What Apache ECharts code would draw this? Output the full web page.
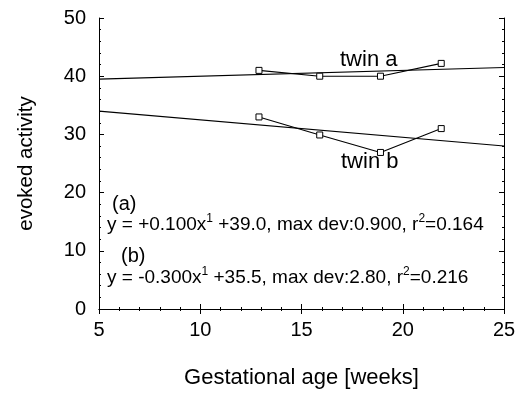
<!DOCTYPE html>
<html>
<head>
<meta charset="utf-8">
<script src="https://cdn.jsdelivr.net/npm/echarts@6/dist/echarts.min.js"></script>
<style>
  html, body { margin: 0; padding: 0; background: #fff; }
  #chart { width: 520px; height: 394px; }
</style>
</head>
<body>
<div id="chart"></div>
<script>
// measured points (gestational week, evoked activity)
const weeks = [12.9, 15.9, 18.9, 21.9]
const twinA = [41.0, 40.0, 40.0, 42.2]
const twinB = [33.0, 29.9, 26.9, 31.0]
// fitted line end points
const fitX = [5, 25]
const fitA = [39.5, 41.5]
const fitB = [34.0, 28.0]
const xTicks = [5, 10, 15, 20, 25]
const yTicks = [0, 10, 20, 30, 40, 50]

const font = 'Liberation Sans, Arial, Helvetica, sans-serif'
const pair = (xs, ys) => xs.map((x, i) => [x, ys[i]])

const chart = echarts.init(document.getElementById('chart'), null, { renderer: 'canvas' })

const tickAxis = (extra) => Object.assign({
  type: 'value',
  axisLine: { show: true, lineStyle: { color: '#000', width: 1 } },
  axisTick: { show: true, inside: true, length: 5, lineStyle: { color: '#000' } },
  minorTick: { show: true, splitNumber: 5, length: 2, lineStyle: { color: '#000' } },
  splitLine: { show: false }
}, extra)

const sup = { fontSize: 12, fontFamily: font, verticalAlign: 'top', padding: [0, 0, 12, 0] }

const option = {
  animation: false,
  grid: { left: 99, right: 16, top: 18, bottom: 82 },
  xAxis: [
    tickAxis({
      min: xTicks[0], max: xTicks[xTicks.length - 1], interval: 5,
      axisLabel: { color: '#000', fontSize: 20, fontFamily: font, margin: 11 },
      name: 'Gestational age [weeks]',
      nameLocation: 'middle', nameGap: 58,
      nameTextStyle: { color: '#000', fontSize: 22, fontFamily: font }
    }),
    tickAxis({ position: 'top', min: 5, max: 25, interval: 5, axisLabel: { show: false } })
  ],
  yAxis: [
    tickAxis({
      min: yTicks[0], max: yTicks[yTicks.length - 1], interval: 10,
      axisLabel: { color: '#000', fontSize: 20, fontFamily: font, margin: 13 },
      name: 'evoked activity',
      nameLocation: 'middle', nameGap: 62,
      nameTextStyle: { color: '#000', fontSize: 20.5, fontFamily: font }
    }),
    tickAxis({ position: 'right', min: 0, max: 50, interval: 10, axisLabel: { show: false } })
  ],
  series: [
    {
      type: 'line', data: pair(fitX, fitA), symbol: 'none',
      lineStyle: { color: '#000', width: 1.1 }, silent: true
    },
    {
      type: 'line', data: pair(fitX, fitB), symbol: 'none',
      lineStyle: { color: '#000', width: 1.1 }, silent: true
    },
    {
      type: 'line', data: pair(weeks, twinA), symbol: 'rect', symbolSize: 6,
      itemStyle: { color: '#fff', borderColor: '#000', borderWidth: 1 },
      lineStyle: { color: '#000', width: 1.1 }
    },
    {
      type: 'line', data: pair(weeks, twinB), symbol: 'rect', symbolSize: 6,
      itemStyle: { color: '#fff', borderColor: '#000', borderWidth: 1 },
      lineStyle: { color: '#000', width: 1.1 }
    }
  ],
  graphic: [
    { type: 'text', x: 340, y: 60, style: { text: 'twin a', font: '22px ' + font, fill: '#000', verticalAlign: 'middle' } },
    { type: 'text', x: 341, y: 162, style: { text: 'twin b', font: '22px ' + font, fill: '#000', verticalAlign: 'middle' } },
    { type: 'text', x: 112, y: 204, style: { text: '(a)', font: '20px ' + font, fill: '#000', verticalAlign: 'middle' } },
    {
      type: 'text', x: 107, y: 225,
      style: {
        text: 'y = +0.100x{sup|1} +39.0, max dev:0.900, r{sup|2}=0.164',
        font: '19px ' + font, fill: '#000', verticalAlign: 'middle', rich: { sup }
      }
    },
    { type: 'text', x: 121, y: 256, style: { text: '(b)', font: '20px ' + font, fill: '#000', verticalAlign: 'middle' } },
    {
      type: 'text', x: 107, y: 278,
      style: {
        text: 'y = -0.300x{sup|1} +35.5, max dev:2.80, r{sup|2}=0.216',
        font: '19px ' + font, fill: '#000', verticalAlign: 'middle', rich: { sup }
      }
    }
  ]
}

chart.setOption(option)
</script>
</body>
</html>
